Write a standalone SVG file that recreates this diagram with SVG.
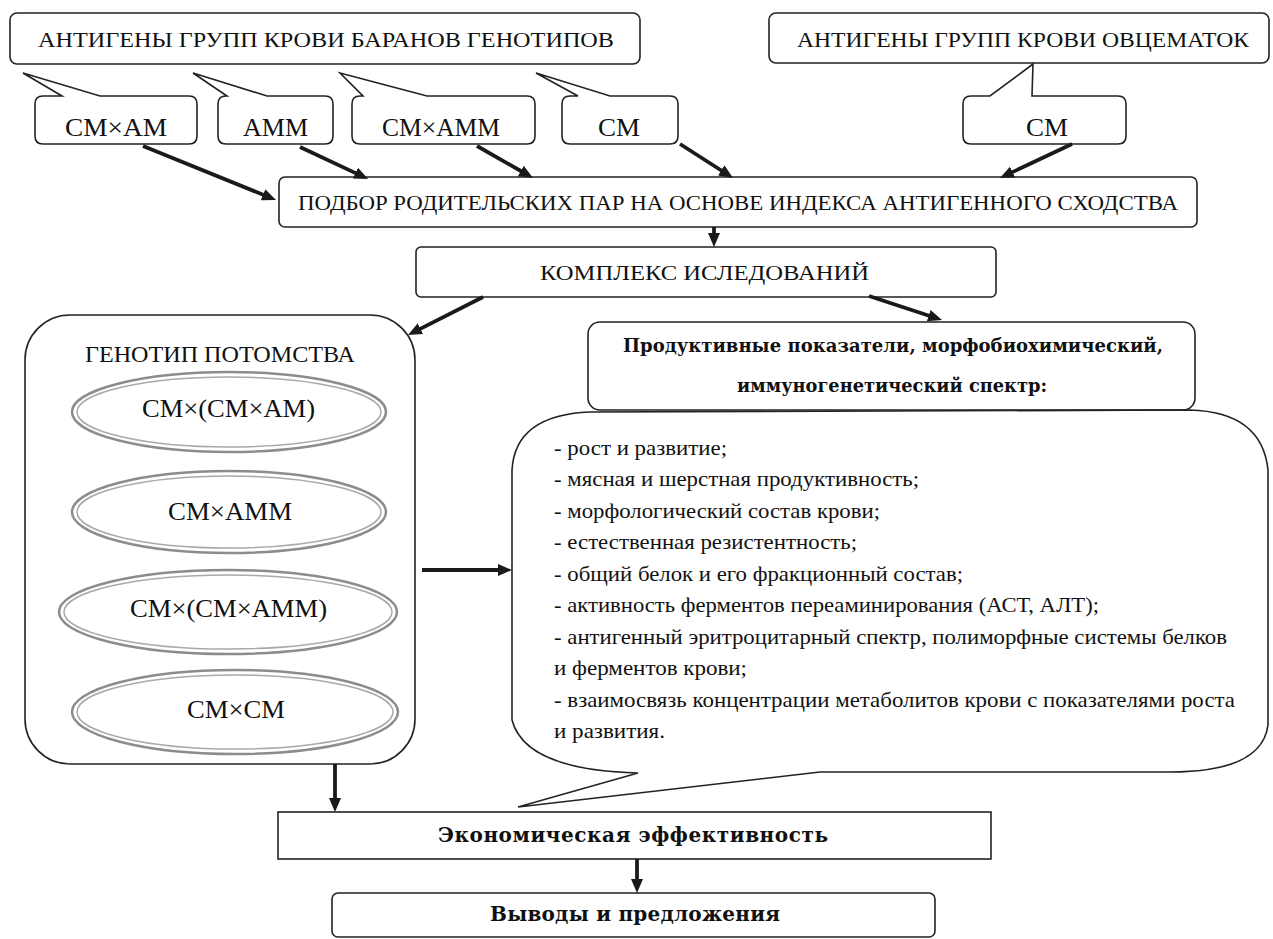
<svg xmlns="http://www.w3.org/2000/svg" width="1273" height="939" viewBox="0 0 1273 939" font-family="Liberation Serif, DejaVu Serif, serif">
<style>
text{font-family:'Liberation Serif','DejaVu Serif',serif;fill:#111;}
.box{fill:#fff;stroke:#222;stroke-width:1.6;}
.cap{font-size:22px;}
.lbl{font-size:26px;}
.bold{font-family:'DejaVu Serif','Liberation Serif',serif;font-weight:bold;font-size:19px;}
.eco{font-family:'DejaVu Serif','Liberation Serif',serif;font-weight:bold;font-size:20px;}
.list{font-size:21px;}
.eo{fill:#fff;stroke:#8c8c8c;stroke-width:2.5;}
.ei{fill:none;stroke:#a9a9a9;stroke-width:1.5;}
.arr{stroke:#1a1a1a;stroke-width:3.8;fill:none;marker-end:url(#ah);}
</style>
<defs>
<marker id="ah" markerWidth="14" markerHeight="12" refX="2" refY="6" orient="auto" markerUnits="userSpaceOnUse">
<path d="M0,0 L14,6 L0,12 Z" fill="#1a1a1a"/>
</marker>
</defs>
<rect width="1273" height="939" fill="#fff"/>

<g id="rams">
<rect class="box" x="10" y="13" width="630" height="51" rx="7"/>
<text class="cap" x="38" y="47" textLength="576" lengthAdjust="spacingAndGlyphs">АНТИГЕНЫ ГРУПП КРОВИ БАРАНОВ ГЕНОТИПОВ</text>
</g>
<g id="ewes">
<rect class="box" x="769" y="13" width="500" height="50" rx="7"/>
<text class="cap" x="797" y="47" textLength="452" lengthAdjust="spacingAndGlyphs">АНТИГЕНЫ ГРУПП КРОВИ ОВЦЕМАТОК</text>
</g>

<g id="c1">
<path class="box" d="M43,96 L62,96 L23,73 L100,96 L189,96 Q197,96 197,104 L197,136 Q197,144 189,144 L43,144 Q35,144 35,136 L35,104 Q35,96 43,96 Z"/>
<text class="lbl" x="65" y="136" textLength="102" lengthAdjust="spacingAndGlyphs">СМ×АМ</text>
</g>
<g id="c2">
<path class="box" d="M226,96 L227,96 L193,73 L267,96 L325,96 Q333,96 333,104 L333,136 Q333,144 325,144 L226,144 Q218,144 218,136 L218,104 Q218,96 226,96 Z"/>
<text class="lbl" x="243" y="136" textLength="65" lengthAdjust="spacingAndGlyphs">АММ</text>
</g>
<g id="c3">
<path class="box" d="M360,96 L363,96 L340,73 L427,96 L527,96 Q535,96 535,104 L535,136 Q535,144 527,144 L360,144 Q352,144 352,136 L352,104 Q352,96 360,96 Z"/>
<text class="lbl" x="382" y="136" textLength="118" lengthAdjust="spacingAndGlyphs">СМ×АММ</text>
</g>
<g id="c4">
<path class="box" d="M570,96 L578,96 L536,73 L610,96 L670,96 Q678,96 678,104 L678,136 Q678,144 670,144 L570,144 Q562,144 562,136 L562,104 Q562,96 570,96 Z"/>
<text class="lbl" x="598" y="136" textLength="42" lengthAdjust="spacingAndGlyphs">СМ</text>
</g>
<g id="c5">
<path class="box" d="M971,96 L990,96 L1033,64 L1032,96 L1118,96 Q1126,96 1126,104 L1126,136 Q1126,144 1118,144 L971,144 Q963,144 963,136 L963,104 Q963,96 971,96 Z"/>
<text class="lbl" x="1026" y="136" textLength="42" lengthAdjust="spacingAndGlyphs">СМ</text>
</g>

<g id="selection">
<rect class="box" x="279" y="177" width="918" height="50" rx="6"/>
<text class="cap" x="298" y="210" textLength="880" lengthAdjust="spacingAndGlyphs">ПОДБОР РОДИТЕЛЬСКИХ ПАР НА ОСНОВЕ ИНДЕКСА АНТИГЕННОГО СХОДСТВА</text>
</g>
<g id="complex">
<rect class="box" x="416" y="247" width="580" height="50" rx="5"/>
<text class="cap" x="540" y="280" textLength="329" lengthAdjust="spacingAndGlyphs">КОМПЛЕКС ИСЛЕДОВАНИЙ</text>
</g>

<g id="genotype">
<rect class="box" x="25" y="315" width="390" height="449" rx="45"/>
<text class="cap" style="font-size:23px" x="85" y="362" textLength="270" lengthAdjust="spacingAndGlyphs">ГЕНОТИП ПОТОМСТВА</text>
<ellipse class="eo" cx="229" cy="412" rx="157" ry="40"/>
<ellipse class="ei" cx="229" cy="412" rx="152" ry="35"/>
<text class="lbl" x="142" y="417" textLength="173" lengthAdjust="spacingAndGlyphs">СМ×(СМ×АМ)</text>
<ellipse class="eo" cx="229" cy="512" rx="157" ry="41"/>
<ellipse class="ei" cx="229" cy="512" rx="152" ry="36"/>
<text class="lbl" x="168" y="520" textLength="124" lengthAdjust="spacingAndGlyphs">СМ×АММ</text>
<ellipse class="eo" cx="228" cy="612" rx="169" ry="42"/>
<ellipse class="ei" cx="228" cy="612" rx="164" ry="37"/>
<text class="lbl" x="130" y="617" textLength="197" lengthAdjust="spacingAndGlyphs">СМ×(СМ×АММ)</text>
<ellipse class="eo" cx="235" cy="712" rx="163" ry="42"/>
<ellipse class="ei" cx="235" cy="712" rx="158" ry="37"/>
<text class="lbl" x="187" y="718" textLength="98" lengthAdjust="spacingAndGlyphs">СМ×СМ</text>
</g>

<g id="indicators">
<rect class="box" x="588" y="322" width="607" height="88" rx="12"/>
<text class="bold" x="623" y="352" textLength="540" lengthAdjust="spacingAndGlyphs">Продуктивные показатели, морфобиохимический,</text>
<text class="bold" x="737" y="392" textLength="310" lengthAdjust="spacingAndGlyphs">иммуногенетический спектр:</text>
</g>

<g id="list">
<path class="box" d="M590,412 L1190,410 Q1262,412 1268,470 L1268,725 Q1262,772 1170,772 L820,772 L518,807 L638,773 Q525,770 512,720 L512,470 Q515,415 590,412 Z"/>
<text class="list" x="554" y="455" textLength="173" lengthAdjust="spacingAndGlyphs">- рост и развитие;</text>
<text class="list" x="554" y="486" textLength="365" lengthAdjust="spacingAndGlyphs">- мясная и шерстная продуктивность;</text>
<text class="list" x="554" y="518" textLength="326" lengthAdjust="spacingAndGlyphs">- морфологический состав крови;</text>
<text class="list" x="554" y="549" textLength="303" lengthAdjust="spacingAndGlyphs">- естественная резистентность;</text>
<text class="list" x="554" y="581" textLength="409" lengthAdjust="spacingAndGlyphs">- общий белок и его фракционный состав;</text>
<text class="list" x="554" y="612" textLength="545" lengthAdjust="spacingAndGlyphs">- активность ферментов переаминирования (АСТ, АЛТ);</text>
<text class="list" x="554" y="644" textLength="673" lengthAdjust="spacingAndGlyphs">- антигенный эритроцитарный спектр, полиморфные системы белков</text>
<text class="list" x="554" y="675" textLength="193" lengthAdjust="spacingAndGlyphs">и ферментов крови;</text>
<text class="list" x="554" y="707" textLength="681" lengthAdjust="spacingAndGlyphs">- взаимосвязь концентрации метаболитов крови с показателями роста</text>
<text class="list" x="554" y="738" textLength="111" lengthAdjust="spacingAndGlyphs">и развития.</text>
</g>

<g id="economy">
<rect class="box" x="278" y="812" width="713" height="47"/>
<text class="eco" x="438" y="842" textLength="390" lengthAdjust="spacing">Экономическая эффективность</text>
</g>
<g id="conclusions">
<rect class="box" x="332" y="893" width="603" height="44" rx="6"/>
<text class="eco" x="490" y="921" textLength="290" lengthAdjust="spacing">Выводы и предложения</text>
</g>

<g id="connectors">
<line class="arr" x1="143" y1="146" x2="264.9" y2="195.5"/>
<line class="arr" x1="300" y1="147" x2="357.2" y2="173.9"/>
<line class="arr" x1="477" y1="146" x2="522.6" y2="172"/>
<line class="arr" x1="680" y1="144" x2="722.9" y2="171.5"/>
<line class="arr" x1="1072" y1="144" x2="1010.8" y2="172.9"/>
<line class="arr" x1="714" y1="227" x2="714" y2="235"/>
<line class="arr" x1="483" y1="297" x2="418.7" y2="329.6"/>
<line class="arr" x1="869" y1="296" x2="930.6" y2="316.3"/>
<line class="arr" x1="422" y1="570" x2="500" y2="570"/>
<line class="arr" x1="335" y1="764" x2="335" y2="800"/>
<line class="arr" x1="637" y1="859" x2="637" y2="881"/>
</g>
</svg>
